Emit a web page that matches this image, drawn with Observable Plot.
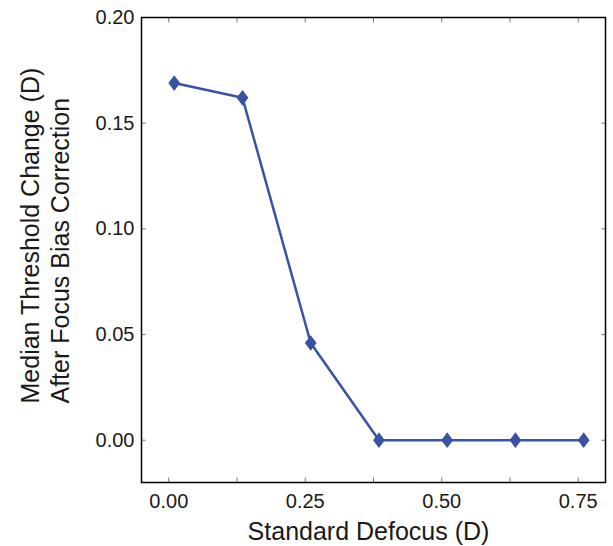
<!DOCTYPE html>
<html>
<head>
<meta charset="utf-8">
<script src="https://cdn.jsdelivr.net/npm/d3@7"></script>
<script src="https://cdn.jsdelivr.net/npm/@observablehq/plot@0.6"></script>
<style>
  html, body { margin: 0; padding: 0; background: #fff; }
</style>
</head>
<body>
<div id="chart"></div>
<script>
const defocus = [0.01, 0.135, 0.26, 0.385, 0.51, 0.635, 0.76];
const thresholdChange = [0.169, 0.162, 0.046, 0.0, 0.0, 0.0, 0.0];
const xTickValues = [0, 0.125, 0.25, 0.375, 0.5, 0.625, 0.75];
const xLabelValues = [0, 0.25, 0.5, 0.75];
const yTickValues = [0, 0.05, 0.10, 0.15, 0.20];
const xTitle = "Standard Defocus (D)";
const yTitle = "Median Threshold Change (D)\nAfter Focus Bias Correction";

const data = defocus.map((x, i) => ({x, y: thresholdChange[i]}));

const blue = "#3953a4";
const ink = "#1a1a1a";
const tickColor = "#777";

const thinDiamond = {
  draw(context, size) {
    const s = Math.sqrt(size / Math.PI);
    const h = s * 8 / 6;
    context.moveTo(0, -h);
    context.lineTo(s, 0);
    context.lineTo(0, h);
    context.lineTo(-s, 0);
    context.closePath();
  }
};

const chart = Plot.plot({
  width: 613,
  height: 546,
  marginLeft: 141,
  marginRight: 8,
  marginTop: 17,
  marginBottom: 64,
  style: {fontFamily: "'Liberation Sans', Arial, sans-serif", color: ink, background: "#fff"},
  x: {domain: [-0.05, 0.80], axis: null},
  y: {domain: [-0.02, 0.20], axis: null},
  marks: [
    // inward ticks
    Plot.axisX(xTickValues, {anchor: "bottom", tickSize: -4.5, stroke: tickColor, fill: "none", label: null}),
    Plot.axisX(xTickValues, {anchor: "top", tickSize: -4.5, stroke: tickColor, fill: "none", label: null}),
    Plot.axisY(yTickValues, {anchor: "left", tickSize: -4.7, stroke: tickColor, fill: "none", label: null}),
    Plot.axisY(yTickValues, {anchor: "right", tickSize: -4.7, stroke: tickColor, fill: "none", label: null}),
    // tick labels
    Plot.axisX(xLabelValues, {anchor: "bottom", tickSize: 0, tickPadding: 11, fontSize: 20, fill: ink, tickFormat: d3.format(".2f"), label: null}),
    Plot.axisY(yTickValues, {anchor: "left", tickSize: 0, tickPadding: 7, fontSize: 20, fill: ink, tickFormat: d3.format(".2f"), label: null}),
    Plot.frame({stroke: "black", strokeWidth: 1.5}),
    Plot.line(data, {x: "x", y: "y", stroke: blue, strokeWidth: 2.5}),
    Plot.dot(data, {x: "x", y: "y", symbol: thinDiamond, r: 5.9, fill: blue, stroke: "none"}),
    Plot.text([xTitle], {text: d => d, frameAnchor: "bottom", dx: -5, dy: 57, lineAnchor: "bottom", fontSize: 25, fill: ink}),
    Plot.text([yTitle], {text: d => d, frameAnchor: "bottom-left", rotate: -90, textAnchor: "start", lineAnchor: "top", lineHeight: 1.17, dx: -123, dy: -79, fontSize: 25, fill: ink})
  ]
});

document.getElementById("chart").appendChild(chart);
</script>
</body>
</html>
